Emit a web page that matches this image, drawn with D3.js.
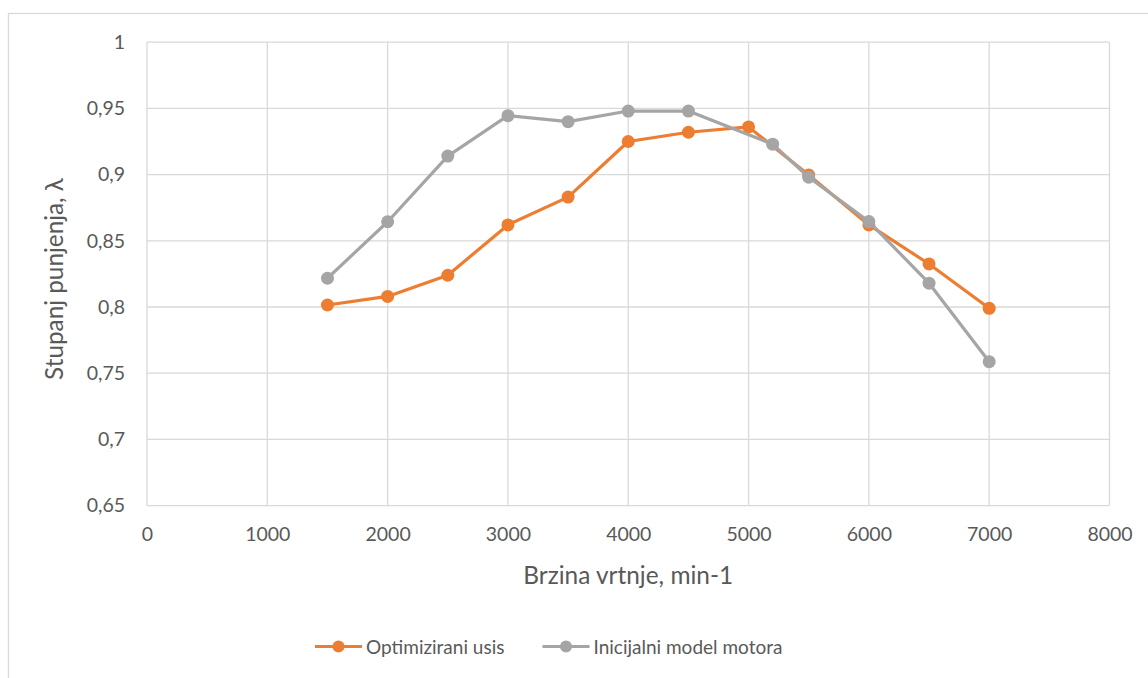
<!DOCTYPE html>
<html>
<head>
<meta charset="utf-8">
<script src="https://cdn.jsdelivr.net/npm/d3@7"></script>
<style>
  html, body { margin: 0; padding: 0; background: #fff; }
  svg { display: block; }
  text { font-family: Lato, "Open Sans", sans-serif; fill: #595959; }
</style>
</head>
<body>
<svg id="chart" width="1148" height="678"></svg>
<script>
// ---- data ----
const optX = [1500, 2000, 2500, 3000, 3500, 4000, 4500, 5000, 5500, 6000, 6500, 7000];
const optY = [0.8015, 0.808, 0.824, 0.862, 0.883, 0.925, 0.932, 0.936, 0.8997, 0.862, 0.8325, 0.799];
const initX = [1500, 2000, 2500, 3000, 3500, 4000, 4500, 5200, 5500, 6000, 6500, 7000];
const initY = [0.8217, 0.8644, 0.914, 0.9445, 0.940, 0.948, 0.948, 0.923, 0.898, 0.8645, 0.818, 0.7587];
const xTicks = [0, 1000, 2000, 3000, 4000, 5000, 6000, 7000, 8000];
const yTicks = [0.65, 0.7, 0.75, 0.8, 0.85, 0.9, 0.95, 1];
const seriesNames = ["Optimizirani usis", "Inicijalni model motora"];
const seriesColors = ["#ED7D31", "#A5A5A5"];
const xTitle = "Brzina vrtnje, min-1";
const yTitle = "Stupanj punjenja, λ";

const svg = d3.select("#chart");

// chart border (cropped at right/bottom)
svg.append("rect").attr("x", 8.5).attr("y", 13.5).attr("width", 1300).attr("height", 800)
  .attr("fill", "none").attr("stroke", "#D9D9D9").attr("stroke-width", 1.3);

const x = d3.scaleLinear().domain([0, 8000]).range([147, 1109.5]);
const y = d3.scaleLinear().domain([0.65, 1]).range([505.6, 42.2]);

const fmt = v => String(+v.toFixed(2)).replace(".", ",");

// gridlines
const g = svg.append("g");
g.selectAll(".hg").data(yTicks).join("line")
  .attr("x1", x(0)).attr("x2", x(8000))
  .attr("y1", d => y(d)).attr("y2", d => y(d))
  .attr("stroke", "#D9D9D9").attr("stroke-width", 1.3);
g.selectAll(".vg").data(xTicks).join("line")
  .attr("y1", y(0.65)).attr("y2", y(1))
  .attr("x1", d => x(d)).attr("x2", d => x(d))
  .attr("stroke", "#D9D9D9").attr("stroke-width", 1.3);

// axes via d3 axis, styled
const yAxis = svg.append("g").attr("transform", `translate(${x(0)},0)`)
  .call(d3.axisLeft(y).tickValues(yTicks).tickFormat(fmt).tickSize(0).tickPadding(22));
yAxis.select(".domain").remove();
yAxis.selectAll("text").style("font-size", "19.5px").attr("fill", "#595959")
  .style("font-family", "Lato, 'Open Sans', sans-serif");

const xAxis = svg.append("g").attr("transform", `translate(0,${y(0.65)})`)
  .call(d3.axisBottom(x).tickValues(xTicks).tickFormat(d3.format("d")).tickSize(0).tickPadding(22));
xAxis.select(".domain").remove();
xAxis.selectAll("text").style("font-size", "19.5px").attr("fill", "#595959")
  .style("font-family", "Lato, 'Open Sans', sans-serif");

// axis titles, sized to match the reference text extents
function fit(sel, target) {
  const len = sel.node().getComputedTextLength();
  const fs = parseFloat(sel.style("font-size"));
  sel.style("font-size", (fs * target / len).toFixed(2) + "px");
}
const xt = svg.append("text").attr("x", (x(0) + x(8000)) / 2).attr("y", 584)
  .attr("text-anchor", "middle").style("font-size", "24px").text(xTitle);
fit(xt, 210);
const yt = svg.append("text")
  .attr("transform", `translate(63,279) rotate(-90)`)
  .attr("text-anchor", "middle").style("font-size", "24px").text(yTitle);
fit(yt, 202);

// series
const series = [
  { name: seriesNames[0], color: seriesColors[0], xs: optX, ys: optY },
  { name: seriesNames[1], color: seriesColors[1], xs: initX, ys: initY }
];
const line = d3.line().x(d => x(d[0])).y(d => y(d[1]));
series.forEach(s => {
  const pts = s.xs.map((v, i) => [v, s.ys[i]]);
  svg.append("path").datum(pts).attr("d", line)
    .attr("fill", "none").attr("stroke", s.color).attr("stroke-width", 3.2)
    .attr("stroke-linejoin", "round");
  svg.append("g").selectAll("circle").data(pts).join("circle")
    .attr("cx", d => x(d[0])).attr("cy", d => y(d[1])).attr("r", 6.5)
    .attr("fill", s.color);
});

// legend
const legendPos = [[315, 646.5], [542.5, 646.5]];
series.forEach((s, i) => {
  const [lx, ly] = legendPos[i];
  svg.append("line").attr("x1", lx).attr("x2", lx + 47).attr("y1", ly).attr("y2", ly)
    .attr("stroke", s.color).attr("stroke-width", 3.2);
  svg.append("circle").attr("cx", lx + 23.5).attr("cy", ly).attr("r", 6).attr("fill", s.color);
  svg.append("text").attr("x", lx + 51).attr("y", ly + 7).style("font-size", "19px").text(s.name);
});
</script>
</body>
</html>
